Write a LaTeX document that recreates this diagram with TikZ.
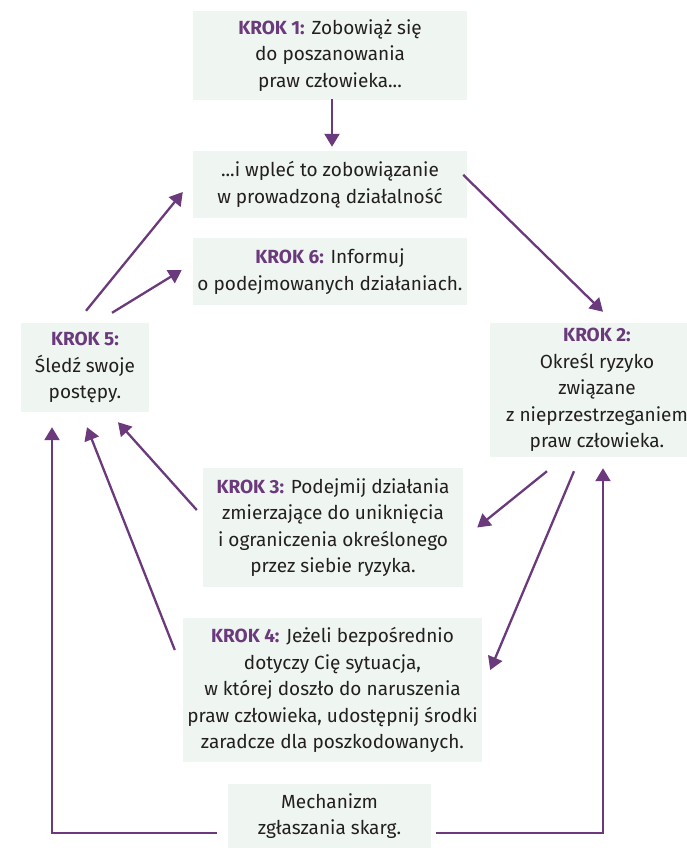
\documentclass[tikz,border=0pt]{standalone}
\usepackage{fontspec}
\setmainfont{Fira Sans}
\usetikzlibrary{arrows.meta,calc}
\definecolor{purp}{HTML}{6A3A7C}
\definecolor{boxbg}{HTML}{EFF6F1}
\definecolor{txt}{HTML}{231F20}
\newcommand{\kroklab}[1]{{\bfseries\color{purp}#1}}
\begin{document}
\begin{tikzpicture}[x=1pt,y=-1pt,
  box/.style={fill=boxbg, inner sep=0pt, align=center, text=txt, font=\fontsize{19}{26.5}\selectfont},
  arr/.style={draw=purp, line width=2.3pt, -{Triangle[length=13pt,width=15pt]}}]
\useasboundingbox (0,0) rectangle (687,848);
\clip (0,0) rectangle (687,848);
\node[box, minimum width=274, minimum height=89] (b1) at (330,55.5)
  {\kroklab{KROK 1:} Zobowiąż się\\do poszanowania\\praw człowieka...};
\node[box, minimum width=274, minimum height=67] (wp) at (330,184.5)
  {...i wpleć to zobowiązanie\\w prowadzoną działalność};
\node[box, minimum width=274, minimum height=67] (k6) at (330,271.5)
  {\kroklab{KROK 6:} Informuj\\o podejmowanych działaniach.};
\node[box, minimum width=128, minimum height=89] (k5) at (85,367.5)
  {\kroklab{KROK 5:}\\Śledź swoje\\postępy.};
\node[box, minimum width=214, minimum height=134] (k2) at (597,390)
  {\kroklab{KROK 2:}\\Określ ryzyko\\związane\\z nieprzestrzeganiem\\praw człowieka.};
\node[box, minimum width=260, minimum height=119] (k3) at (333,527.5)
  {\kroklab{KROK 3:} Podejmij działania\\zmierzające do uniknięcia\\i ograniczenia określonego\\przez siebie ryzyka.};
\node[box, minimum width=299, minimum height=144] (k4) at (332.5,690)
  {\kroklab{KROK 4:} Jeżeli bezpośrednio\\dotyczy Cię sytuacja,\\w której doszło do naruszenia\\praw człowieka, udostępnij środki\\zaradcze dla poszkodowanych.};
\node[box, minimum width=203, minimum height=64] (mc) at (329.5,816)
  {Mechanizm\\zgłaszania skarg.};
% connectors
\draw[arr] ($(b1.south)+(2,-1)$) -- ($(wp.north)+(2,-4)$);
\draw[arr] ($(wp.north east)+(-4,24)$) -- ($(k2.north)+(6,-11)$);
\draw[arr] ($(k5.north)+(1,-12)$) -- ($(wp.west)+(-10,7.5)$);
\draw[arr] ($(k5.north)+(27,-10)$) -- ($(k6.west)+(-11,-1.5)$);
\draw[arr] ($(k2.south)+(-50,14)$) -- ($(k3.east)+(14,0)$);
\draw[arr] ($(k2.south)+(-23,14)$) -- ($(k4.east)+(8,-20)$);
\draw[arr] ($(k3.west)+(-6,-17.5)$) -- ($(k5.south)+(33,10)$);
\draw[arr] ($(k4.west)+(-8,-40)$) -- ($(k5.south)+(2,15)$);
\draw[arr] ($(mc.west)+(-11,17)$) -| ($(k5.south)+(-33,15)$);
\draw[arr] ($(mc.east)+(5,17)$) -| ($(k2.south)+(6,11)$);
\end{tikzpicture}
\end{document}
